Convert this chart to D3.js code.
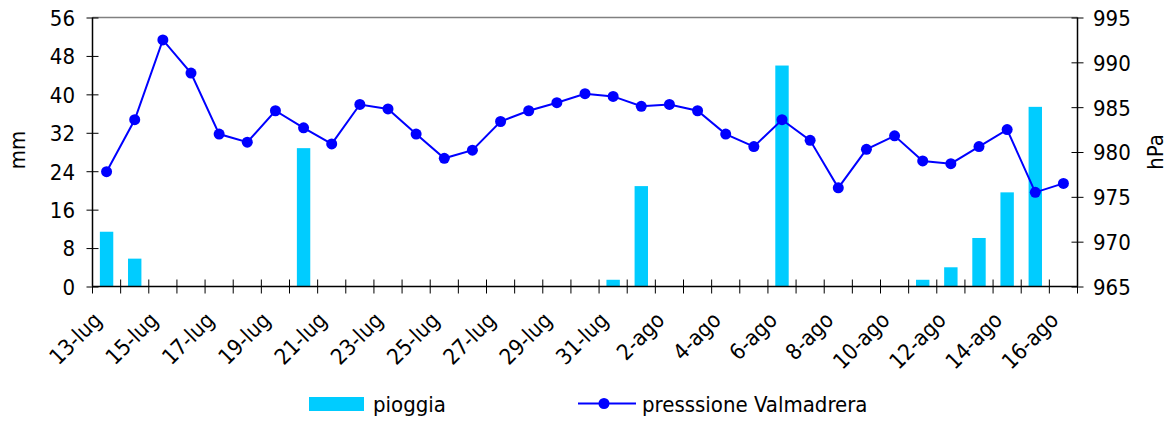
<!DOCTYPE html>
<html><head><meta charset="utf-8">
<script src="https://cdn.jsdelivr.net/npm/d3@7"></script>
<style>
body{margin:0;background:#fff;}
text{font-family:"DejaVu Sans Condensed","DejaVu Sans",Verdana,sans-serif;font-stretch:condensed;fill:#000;}
</style></head><body>
<svg id="c" width="1172" height="424"></svg>
<script>
const categories = ["13-lug","14-lug","15-lug","16-lug","17-lug","18-lug","19-lug","20-lug","21-lug","22-lug","23-lug","24-lug","25-lug","26-lug","27-lug","28-lug","29-lug","30-lug","31-lug","1-ago","2-ago","3-ago","4-ago","5-ago","6-ago","7-ago","8-ago","9-ago","10-ago","11-ago","12-ago","13-ago","14-ago","15-ago","16-ago"];
const pioggia = [11.4,5.8,0,0,0,0,0,28.8,0,0,0,0,0,0,0,0,0,0,1.4,20.9,0,0,0,0,46.0,0,0,0,0,1.4,4.0,10.1,19.6,37.4,0];
const pressione = [977.8,983.6,992.5,988.8,982.0,981.1,984.6,982.7,980.9,985.3,984.8,982.0,979.3,980.2,983.4,984.6,985.5,986.5,986.2,985.1,985.3,984.6,982.0,980.6,983.6,981.3,976.0,980.3,981.8,979.0,978.7,980.6,982.5,975.5,976.5];
const leftTicks = [0,8,16,24,32,40,48,56];
const rightTicks = [965,970,975,980,985,990,995];
const labelEvery = 2;

const svg = d3.select("#c");
const L = 92.5, R = 1077.5, T = 17.5, B = 286.5;
const x = d3.scaleBand().domain(categories).range([L, R]).paddingInner(0).paddingOuter(0);
const yL = d3.scaleLinear().domain([0,56]).range([B, T]);
const yR = d3.scaleLinear().domain([965,995]).range([B, T]);
const fs = 22;

// top border
svg.append("line").attr("x1",L).attr("x2",R).attr("y1",T).attr("y2",T).attr("stroke","#808080").attr("stroke-width",1.5);

// bars
const bw = x.bandwidth()/2.1;
svg.append("g").selectAll("rect").data(categories.map((c,i)=>({c,v:pioggia[i]})).filter(d=>d.v>0))
 .join("rect")
 .attr("x",d=>x(d.c)+x.bandwidth()/2-bw/2)
 .attr("width",bw)
 .attr("y",d=>yL(d.v))
 .attr("height",d=>yL(0)-yL(d.v))
 .attr("fill","#00ccff");

// left axis
const gL = svg.append("g").attr("transform",`translate(${L},0)`)
 .call(d3.axisLeft(yL).tickValues(leftTicks).tickSize(6).tickPadding(11.5));
gL.selectAll(".tick line").attr("x2",-6).attr("x1",6);
gL.select(".domain").remove();
svg.append("line").attr("x1",L).attr("x2",L).attr("y1",T).attr("y2",B).attr("stroke","#000").attr("stroke-width",1.5);

// right axis
const gR = svg.append("g").attr("transform",`translate(${R},0)`)
 .call(d3.axisRight(yR).tickValues(rightTicks).tickSize(6).tickPadding(9.5));
gR.selectAll(".tick line").attr("x1",-6).attr("x2",6);
gR.select(".domain").remove();
svg.append("line").attr("x1",R).attr("x2",R).attr("y1",T).attr("y2",B).attr("stroke","#000").attr("stroke-width",1.5);

[gL,gR].forEach(g=>{
  g.selectAll(".tick line").attr("stroke","#000");
  g.selectAll("text").attr("font-size",fs).attr("font-family",null).attr("dy","0.36em");
});

// bottom axis ticks at category boundaries
const bounds = categories.map(c=>x(c)).concat([R]);
svg.append("g").selectAll("line").data(bounds).join("line")
 .attr("x1",d=>d).attr("x2",d=>d).attr("y1",B-7).attr("y2",B+7).attr("stroke","#000");
svg.append("line").attr("x1",L).attr("x2",R).attr("y1",B).attr("y2",B).attr("stroke","#000").attr("stroke-width",1.5);

// bottom labels
const lab = svg.append("g").selectAll("g").data(categories.filter((c,i)=>i%labelEvery===0)).join("g")
 .attr("transform",d=>`translate(${x(d)+x.bandwidth()/2-3.5},${B+35})`);
lab.append("text").attr("transform","rotate(-45)").attr("text-anchor","end").attr("font-size",fs).text(d=>d);

// line
const pts = categories.map((c,i)=>({c,v:pressione[i]}));
svg.append("path").datum(pts)
 .attr("d",d3.line().x(d=>x(d.c)+x.bandwidth()/2).y(d=>yR(d.v)))
 .attr("fill","none").attr("stroke","#0000ff").attr("stroke-width",2);
svg.append("g").selectAll("circle").data(pts).join("circle")
 .attr("cx",d=>x(d.c)+x.bandwidth()/2).attr("cy",d=>yR(d.v)).attr("r",5.5).attr("fill","#0000ff");

// axis titles
svg.append("text").attr("transform","translate(25,150) rotate(-90)").attr("text-anchor","middle").attr("font-size",fs).text("mm");
svg.append("text").attr("transform","translate(1163,152) rotate(-90)").attr("text-anchor","middle").attr("font-size",fs).text("hPa");

// legend
svg.append("rect").attr("x",309).attr("y",397).attr("width",55).attr("height",14).attr("fill","#00ccff");
svg.append("text").attr("x",373).attr("y",412).attr("font-size",fs).text("pioggia");
svg.append("line").attr("x1",578).attr("x2",636).attr("y1",403.5).attr("y2",403.5).attr("stroke","#0000ff").attr("stroke-width",2);
svg.append("circle").attr("cx",604).attr("cy",403.5).attr("r",5.5).attr("fill","#0000ff");
svg.append("text").attr("x",642).attr("y",412).attr("font-size",fs).text("presssione Valmadrera");
</script>
</body></html>
